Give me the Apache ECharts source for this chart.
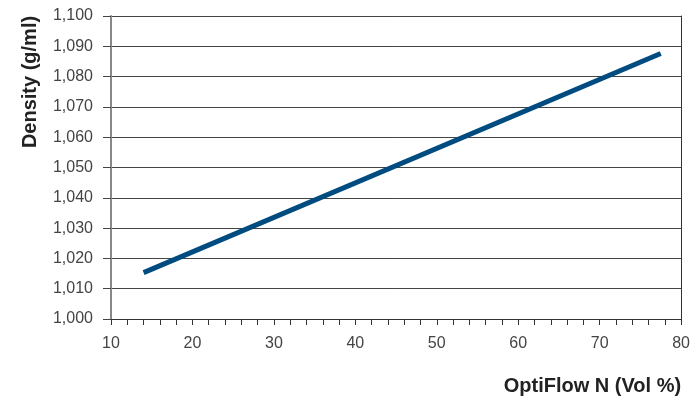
<!DOCTYPE html>
<html><head><meta charset="utf-8">
<script src="https://cdn.jsdelivr.net/npm/echarts@6/dist/echarts.min.js"></script>
<style>html,body{margin:0;padding:0;background:#fff}#c{width:693px;height:397px}</style>
</head><body><div id="c"></div>
<script>
const xValues = [14, 77.5];
const densityValues = [1.0153, 1.0876];
const yTicks = ['1,000','1,010','1,020','1,030','1,040','1,050','1,060','1,070','1,080','1,090','1,100'];
const xTitle = 'OptiFlow N (Vol %)';
const yTitle = 'Density (g/ml)';

const font = '"Liberation Sans", Arial, Helvetica, sans-serif';
const chart = echarts.init(document.getElementById('c'));
chart.setOption({
  animation: false,
  grid: {left: 111, right: 11, top: 16, bottom: 78},
  xAxis: {
    type: 'value', min: 10, max: 80, interval: 10,
    axisLine: {show: true, lineStyle: {color: '#333', width: 1}},
    axisTick: {show: true, length: 6, lineStyle: {color: '#333'}},
    minorTick: {show: true, splitNumber: 5, length: 6, lineStyle: {color: '#333'}},
    splitLine: {show: false},
    axisLabel: {fontFamily: font, fontSize: 16, color: '#444', margin: 17},
    name: xTitle, nameLocation: 'end', nameGap: 0,
    nameTextStyle: {fontFamily: font, fontSize: 20, fontWeight: 'bold', color: '#222',
      align: 'right', verticalAlign: 'top', padding: [57, 0, 0, 0]}
  },
  yAxis: [{
    type: 'value', min: 1.0, max: 1.1, interval: 0.01,
    axisLine: {show: true, lineStyle: {color: '#888', width: 2}},
    axisTick: {show: true, length: 8, lineStyle: {color: '#444'}},
    splitLine: {show: true, lineStyle: {color: '#444', width: 1}},
    axisLabel: {fontFamily: font, fontSize: 16, color: '#444', margin: 18,
      formatter: (v) => yTicks[Math.round((v - 1.0) / 0.01)] || ''}
  }, {
    type: 'value', min: 1.0, max: 1.1, interval: 0.01, position: 'right',
    axisLine: {show: true, lineStyle: {color: '#333', width: 1}},
    axisTick: {show: false}, axisLabel: {show: false}, splitLine: {show: false}
  }],
  graphic: [{
    type: 'text', x: 30, y: 82, rotation: Math.PI / 2,
    style: {text: yTitle, font: 'bold 20px ' + font, fill: '#222', align: 'center', verticalAlign: 'middle'}
  }],
  series: [{
    type: 'line', yAxisIndex: 0, showSymbol: false,
    data: xValues.map((x, i) => [x, densityValues[i]]),
    lineStyle: {color: '#004b80', width: 5}
  }]
});
</script></body></html>
